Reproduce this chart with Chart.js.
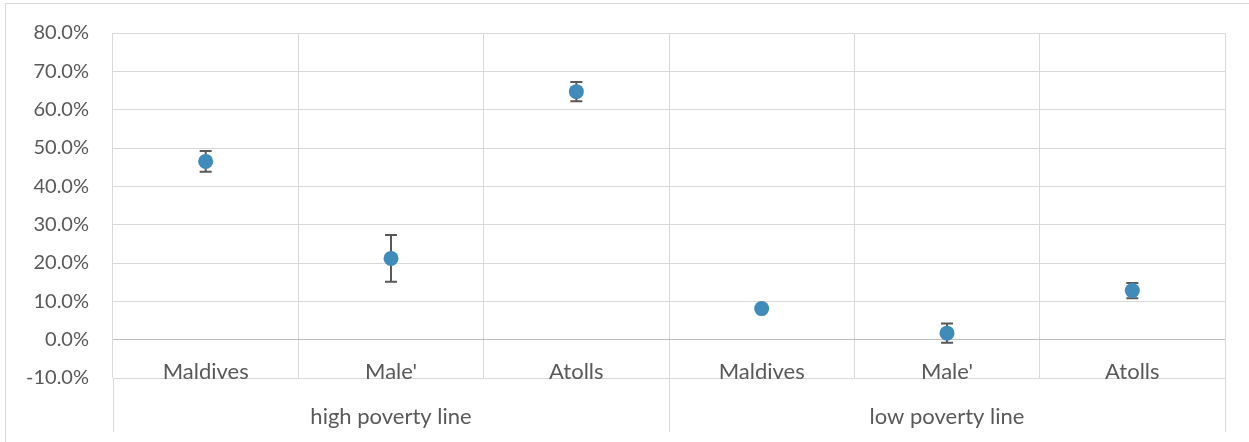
<!DOCTYPE html>
<html>
<head>
<meta charset="utf-8">
<script src="https://cdn.jsdelivr.net/npm/chart.js@4.4.1/dist/chart.umd.min.js"></script>
<style>
  html, body { margin:0; padding:0; background:#fff; }
  #wrap { width:1249px; height:442px; position:relative; }
</style>
</head>
<body>
<div id="wrap"><canvas id="c" width="1249" height="442"></canvas></div>
<script>
// ── data ──────────────────────────────────────────────────────────────
const categories = ['Maldives', "Male'", 'Atolls', 'Maldives', "Male'", 'Atolls'];
const groups     = ['high poverty line', 'low poverty line'];
const groupSize  = 3;
const values     = [46.5, 21.2, 64.7, 8.1, 1.7, 12.8];
const errLow     = [43.8, 15.1, 62.2, 7.4, -0.8, 10.8];
const errHigh    = [49.2, 27.3, 67.2, 8.8, 4.2, 14.8];
const yMin = -10, yMax = 80, yStep = 10;

const TEXT = '#595959';
const GRID = '#d9d9d9';
const FONT = 'Lato, "Open Sans", sans-serif';

// ── error bars (drawn behind markers) ─────────────────────────────────
const errorBars = {
  id: 'errorBars',
  beforeDatasetsDraw(chart) {
    const { ctx, scales: { x, y } } = chart;
    ctx.save();
    ctx.strokeStyle = '#595959';
    ctx.lineWidth = 2;
    values.forEach((v, i) => {
      const px = x.getPixelForValue(i);
      const top = y.getPixelForValue(errHigh[i]);
      const bot = y.getPixelForValue(errLow[i]);
      ctx.beginPath();
      ctx.moveTo(px, top); ctx.lineTo(px, bot);
      ctx.moveTo(px - 6, top); ctx.lineTo(px + 6, top);
      ctx.moveTo(px - 6, bot); ctx.lineTo(px + 6, bot);
      ctx.stroke();
    });
    ctx.restore();
  }
};

// ── two-level category labels + frame ─────────────────────────────────
const catLabels = {
  id: 'catLabels',
  beforeDraw(chart) {
    const { ctx } = chart;
    ctx.save();
    ctx.strokeStyle = GRID;
    ctx.lineWidth = 1;
    ctx.strokeRect(5.5, 3.5, 1300, 500);
    ctx.restore();
  },
  afterDraw(chart) {
    const { ctx, scales: { x, y } } = chart;
    const yBase = y.getPixelForValue(yMin);
    ctx.save();
    ctx.fillStyle = TEXT;
    ctx.font = '22px ' + FONT;
    ctx.textAlign = 'center';
    ctx.textBaseline = 'alphabetic';
    categories.forEach((c, i) => ctx.fillText(c, x.getPixelForValue(i), yBase + 1));

    // group separators
    const bounds = [x.left];
    for (let g = 1; g < groups.length; g++) {
      const k = g * groupSize;
      bounds.push((x.getPixelForValue(k - 1) + x.getPixelForValue(k)) / 2);
    }
    bounds.push(x.right);
    ctx.strokeStyle = GRID;
    ctx.lineWidth = 1;
    ctx.beginPath();
    bounds.forEach(b => {
      const bx = Math.round(b) + 0.5;
      ctx.moveTo(bx, yBase); ctx.lineTo(bx, yBase + 54);
    });
    ctx.stroke();

    groups.forEach((g, gi) => {
      const cx = (bounds[gi] + bounds[gi + 1]) / 2;
      ctx.fillText(g, cx, yBase + 46);
    });
    ctx.restore();
  }
};

new Chart(document.getElementById('c').getContext('2d'), {
  type: 'line',
  data: {
    labels: categories,
    datasets: [{
      data: values,
      showLine: false,
      pointRadius: 7.5,
      pointHoverRadius: 7.5,
      pointBackgroundColor: '#3f8bba',
      pointBorderWidth: 0,
    }]
  },
  options: {
    responsive: false,
    animation: false,
    layout: { padding: { top: 33, right: 24, bottom: 64, left: 0 } },
    plugins: { legend: { display: false }, tooltip: { enabled: false } },
    scales: {
      x: {
        type: 'category',
        offset: true,
        grid: { offset: true, color: GRID, drawTicks: false },
        border: { display: false },
        ticks: { display: false },
      },
      y: {
        min: yMin, max: yMax,
        afterFit: s => { s.width = 113; s.paddingTop = 12; s.paddingBottom = 12; },
        grid: {
          color: ctx => ctx.tick && ctx.tick.value === 0 ? '#bfbfbf' : GRID,
          drawTicks: false,
        },
        border: { display: false },
        ticks: {
          stepSize: yStep,
          padding: 24,
          color: TEXT,
          font: { family: FONT, size: 20 },
          callback: v => v.toFixed(1) + '%',
        },
      }
    }
  },
  plugins: [errorBars, catLabels]
});
</script>
</body>
</html>
